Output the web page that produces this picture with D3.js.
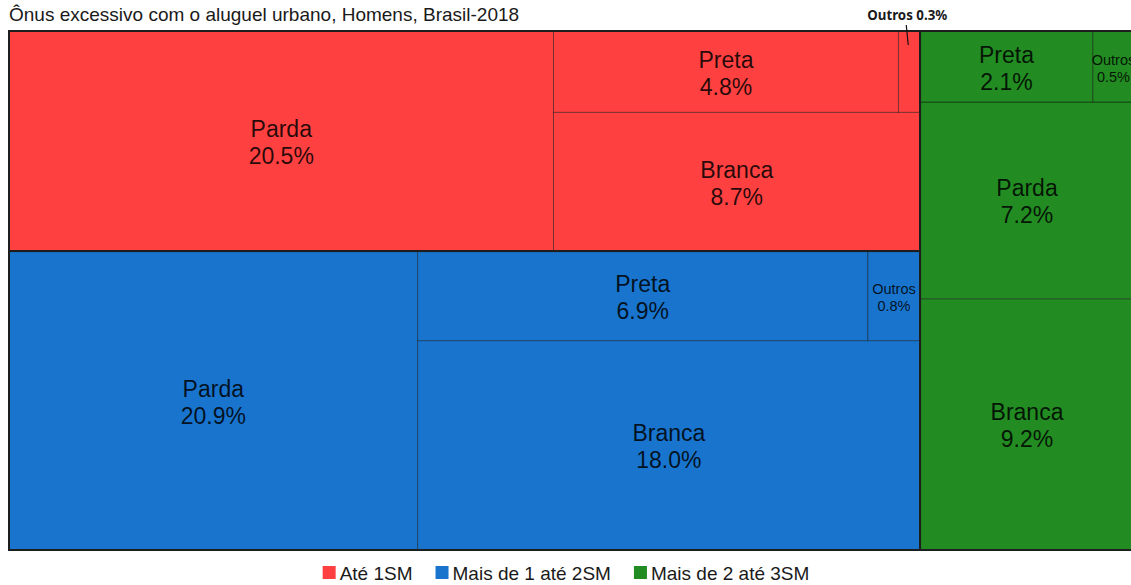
<!DOCTYPE html>
<html>
<head>
<meta charset="utf-8">
<script src="https://cdn.jsdelivr.net/npm/d3@7"></script>
<style>
  body { margin: 0; background: #fff; }
  svg { display: block; font-family: "Liberation Sans", Arial, sans-serif; }
</style>
</head>
<body>
<svg width="1131" height="585"></svg>
<script>
const title = "Ônus excessivo com o aluguel urbano, Homens, Brasil-2018";
const groups = ["Até 1SM", "Mais de 1 até 2SM", "Mais de 2 até 3SM"];
const groupColors = ["#ff4040", "#1874cd", "#228b22"];
const races = ["Parda", "Branca", "Preta", "Outros"];
const ate1 = [20.5, 8.7, 4.8, 0.3];
const de1a2 = [20.9, 18.0, 6.9, 0.8];
const de2a3 = [7.2, 9.2, 2.1, 0.5];

const seriesValues = [ate1, de1a2, de2a3];
const svg = d3.select("svg");
const plot = { left: 9, right: 1134, top: 31, bottom: 550 };

const data = {
  name: "root",
  children: groups.map((g, gi) => ({
    name: g,
    children: races.map((r, ri) => ({ name: r, value: seriesValues[gi][ri] })),
  })),
};

const root = d3
  .hierarchy(data)
  .sum((d) => d.value || 0)
  .sort((a, b) => b.value - a.value);

// layout computed in a square space, origin at bottom-left (like R's treemap)
d3.treemap().tile(d3.treemapSquarify.ratio(1)).size([1, 1])(root);

const x = d3.scaleLinear().domain([0, 1]).range([plot.left, plot.right]);
const y = d3.scaleLinear().domain([0, 1]).range([plot.bottom, plot.top]);
const color = d3.scaleOrdinal().domain(groups).range(groupColors);

const box = (d) => ({
  x0: x(d.x0),
  x1: x(d.x1),
  y0: y(d.y1),
  y1: y(d.y0),
});

svg
  .append("text")
  .attr("x", 9)
  .attr("y", 21)
  .attr("font-size", 19)
  .attr("fill", "#1a1a1a")
  .text(title);

const leaves = svg
  .append("g")
  .selectAll("rect")
  .data(root.leaves())
  .join("rect")
  .each(function (d) {
    const b = box(d);
    d3.select(this)
      .attr("x", b.x0)
      .attr("y", b.y0)
      .attr("width", b.x1 - b.x0)
      .attr("height", b.y1 - b.y0);
  })
  .attr("fill", (d) => color(d.parent.data.name))
  .attr("stroke", "rgba(0,0,0,0.4)")
  .attr("stroke-width", 1);

svg
  .append("g")
  .selectAll("rect")
  .data(root.children)
  .join("rect")
  .each(function (d) {
    const b = box(d);
    d3.select(this)
      .attr("x", b.x0)
      .attr("y", b.y0)
      .attr("width", b.x1 - b.x0)
      .attr("height", b.y1 - b.y0);
  })
  .attr("fill", "none")
  .attr("stroke", "#1e1e1e")
  .attr("stroke-width", 2);

// labels inside the rectangles
const inside = root.leaves().filter((d) => d.value >= 0.5);
const labels = svg
  .append("g")
  .selectAll("text")
  .data(inside)
  .join("text")
  .attr("text-anchor", "middle")
  .attr("fill", "rgba(0,0,0,0.85)")
  .attr("font-size", (d) => (d.value < 1 ? 14.5 : 23))
  .attr("transform", (d) => {
    const b = box(d);
    return `translate(${(b.x0 + b.x1) / 2},${(b.y0 + b.y1) / 2})`;
  });

labels
  .append("tspan")
  .attr("x", 0)
  .attr("y", (d) => (d.value < 1 ? -2 : -4))
  .text((d) => d.data.name);

labels
  .append("tspan")
  .attr("x", 0)
  .attr("y", (d) => (d.value < 1 ? 15 : 23))
  .text((d) => d.value.toFixed(1) + "%");

// tiny rectangles get an outside label with a leader line
const outside = root.leaves().filter((d) => d.value < 0.5);
outside.forEach((d) => {
  const b = box(d);
  const cx = (b.x0 + b.x1) / 2;
  svg
    .append("line")
    .attr("x1", cx - 3)
    .attr("y1", b.y0 - 6)
    .attr("x2", cx - 1)
    .attr("y2", b.y0 + 14)
    .attr("stroke", "#111")
    .attr("stroke-width", 1.2);
  svg
    .append("text")
    .attr("x", cx - 2)
    .attr("y", 20)
    .attr("text-anchor", "middle")
    .attr("font-family", "'Noto Sans', 'Open Sans', sans-serif")
    .attr("font-weight", "bold")
    .attr("font-size", 13.3)
    .attr("fill", "#1a1a1a")
    .text(`${d.data.name} ${d.value.toFixed(1)}%`);
});

// legend
const legend = svg.append("g").attr("font-size", 19).attr("fill", "#1a1a1a");
const ctx = document.createElement("canvas").getContext("2d");
ctx.font = "19px 'Liberation Sans', Arial, sans-serif";
const sq = 13, gapText = 4, gapItem = 23;
const widths = groups.map((g) => sq + gapText + ctx.measureText(g).width);
const total = d3.sum(widths) + gapItem * (groups.length - 1);
let lx = 566 - total / 2;
groups.forEach((g, i) => {
  legend
    .append("rect")
    .attr("x", lx)
    .attr("y", 566)
    .attr("width", sq)
    .attr("height", sq)
    .attr("fill", color(g));
  legend
    .append("text")
    .attr("x", lx + sq + gapText)
    .attr("y", 580)
    .text(g);
  lx += widths[i] + gapItem;
});
</script>
</body>
</html>
